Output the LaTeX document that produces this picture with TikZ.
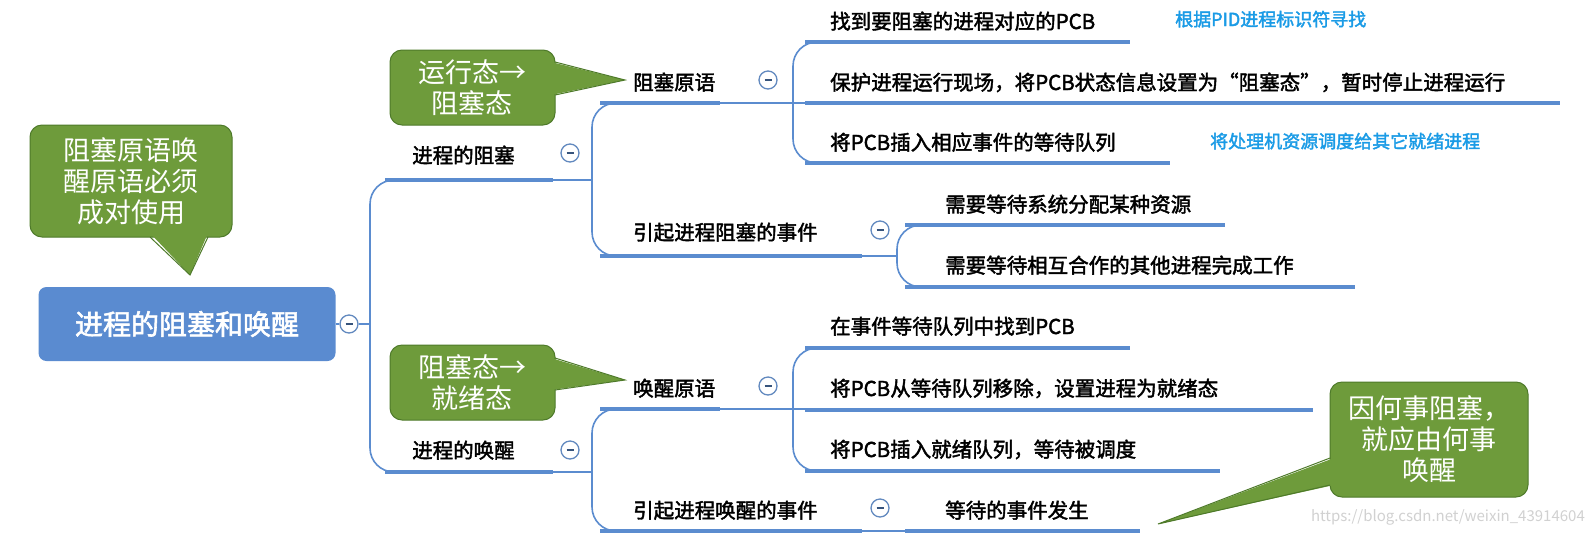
\documentclass[tikz,border=0pt]{standalone}
\usepackage{fontspec}
\setmainfont[AutoFakeBold=2]{Noto Sans CJK SC}
\definecolor{lineblue}{HTML}{5B8CCF}
\definecolor{rootblue}{HTML}{5A8BD0}
\definecolor{cgreen}{HTML}{6E9B3B}
\definecolor{cgreenb}{HTML}{4E7A2A}
\definecolor{noteblue}{HTML}{1A9BE6}
\begin{document}
\begin{tikzpicture}[x=1pt,y=-1pt,
  lbl/.style={anchor=base west,inner sep=0pt,font=\bfseries\fontsize{20.5}{22}\selectfont},
  note/.style={anchor=base west,inner sep=0pt,text=noteblue,font=\bfseries\fontsize{18}{20}\selectfont},
  uline/.style={lineblue,line width=4.5pt},
  conn/.style={lineblue,line width=1.6pt,rounded corners=24pt},
  tog/.style={circle,draw=lineblue!80!gray,line width=1.3pt,minimum size=18pt,inner sep=0pt,fill=white,
     path picture={\draw[lineblue!60!black,line width=1.3pt] ([xshift=-3.5pt]path picture bounding box.center) -- ([xshift=3.5pt]path picture bounding box.center);}},
  call/.style={fill=cgreen,draw=cgreenb,line width=1pt,rounded corners=12pt},
  calltxt/.style={align=center,text=white,font=\fontsize{27}{31}\selectfont,inner sep=0pt}]
\useasboundingbox (0,0) rectangle (1595,542);
\fill[white] (0,0) rectangle (1595,542);

% root
\node[fill=rootblue,rounded corners=8pt,minimum width=297pt,minimum height=74pt,text=white,font=\bfseries\fontsize{28}{30}\selectfont] (root) at (187,324) {进程的阻塞和唤醒};
\node[tog] (t0) at (349,324) {};

% level 1
\node[lbl] (b1) at (412,163) {进程的阻塞};
\node[lbl] (b2) at (412,458) {进程的唤醒};
\node[tog] (t1) at (570,153) {};
\node[tog] (t2) at (570,450) {};
\draw[uline] (385,180) -- (553,180);
\draw[uline] (385,472) -- (553,472);
\draw[lineblue,line width=1.6pt] (root.east) -- (t0.west) (t0.east) -- (370,324);
\draw[conn] (370,324) -- (370,180) -- (385,180);
\draw[conn] (370,324) -- (370,472) -- (385,472);

% level 2
\node[lbl] (c1) at (633,90) {阻塞原语};
\node[lbl] (c2) at (633,240) {引起进程阻塞的事件};
\node[lbl] (c3) at (633,396) {唤醒原语};
\node[lbl] (c4) at (633,518) {引起进程唤醒的事件};
\node[tog] (t3) at (768,80) {};
\node[tog] (t4) at (880,230) {};
\node[tog] (t5) at (768,386) {};
\node[tog] (t6) at (880,508) {};
\draw[uline] (600,103) -- (720,103);
\draw[uline] (600,256) -- (862,256);
\draw[uline] (600,409) -- (720,409);
\draw[uline] (600,531) -- (862,531);
\draw[lineblue,line width=1.6pt] (553,180) -- (592,180);
\draw[lineblue,line width=1.6pt] (553,472) -- (592,472);
\draw[conn] (592,180) -- (592,103) -- (600,103);
\draw[conn] (592,180) -- (592,256) -- (600,256);
\draw[conn] (592,472) -- (592,409) -- (600,409);
\draw[conn] (592,472) -- (592,531) -- (600,531);

% level 3
\node[lbl] (d1) at (830,29) {找到要阻塞的进程对应的PCB};
\node[lbl] (d2) at (830,90) {保护进程运行现场，将PCB状态信息设置为“阻塞态”，暂时停止进程运行};
\node[lbl] (d3) at (830,150) {将PCB插入相应事件的等待队列};
\node[lbl] (e1) at (945,212) {需要等待系统分配某种资源};
\node[lbl] (e2) at (945,273) {需要等待相互合作的其他进程完成工作};
\node[lbl] (f1) at (830,334) {在事件等待队列中找到PCB};
\node[lbl] (f2) at (830,396) {将PCB从等待队列移除，设置进程为就绪态};
\node[lbl] (f3) at (830,457) {将PCB插入就绪队列，等待被调度};
\node[lbl] (g1) at (945,518) {等待的事件发生};
\draw[uline] (805,42) -- (1130,42);
\draw[uline] (805,103) -- (1560,103);
\draw[uline] (805,163) -- (1170,163);
\draw[uline] (905,225) -- (1225,225);
\draw[uline] (905,287) -- (1355,287);
\draw[uline] (805,348) -- (1130,348);
\draw[uline] (805,410) -- (1313,410);
\draw[uline] (805,471) -- (1220,471);
\draw[uline] (905,531) -- (1140,531);
\draw[lineblue,line width=1.6pt] (720,103) -- (805,103);
\draw[conn] (793,103) -- (793,42) -- (805,42);
\draw[conn] (793,103) -- (793,163) -- (805,163);
\draw[lineblue,line width=1.6pt] (862,256) -- (897,256);
\draw[conn] (897,256) -- (897,225) -- (905,225);
\draw[conn] (897,256) -- (897,287) -- (905,287);
\draw[lineblue,line width=1.6pt] (720,409) -- (805,409);
\draw[conn] (793,409) -- (793,348) -- (805,348);
\draw[conn] (793,409) -- (793,471) -- (805,471);
\draw[lineblue,line width=1.6pt] (862,531) -- (905,531);

% notes
\node[note] (n1) at (1175,26) {根据PID进程标识符寻找};
\node[note] (n2) at (1210,148) {将处理机资源调度给其它就绪进程};

% callouts
\coordinate (p1) at (190,275);
\coordinate (p2) at (625,80);
\coordinate (p3) at (625,380);
\coordinate (p4) at (1158,524);
\draw[call] (30,125) rectangle (232,237);
\fill[cgreen] (150,233) -- (p1) -- (208,233) -- cycle;
\draw[cgreenb,line width=1pt] (150,237) -- (p1) -- (208,237);
\node[calltxt] (k1) at (131,181) {阻塞原语唤\\醒原语必须\\成对使用};

\draw[call] (390,50) rectangle (555,125);
\fill[cgreen] (551,62) -- (p2) -- (551,95) -- cycle;
\draw[cgreenb,line width=1pt] (555,62) -- (p2) -- (555,95);
\node[calltxt] (k2) at (472,88) {运行态→\\阻塞态};

\draw[call] (390,345) rectangle (555,420);
\fill[cgreen] (551,358) -- (p3) -- (551,390) -- cycle;
\draw[cgreenb,line width=1pt] (555,358) -- (p3) -- (555,390);
\node[calltxt] (k3) at (472,383) {阻塞态→\\就绪态};

\draw[call] (1330,382) rectangle (1528,497);
\fill[cgreen] (1334,458) -- (p4) -- (1334,485) -- cycle;
\draw[cgreenb,line width=1pt] (1330,458) -- (p4) -- (1330,485);
\node[calltxt] (k4) at (1429,439) {因何事阻塞，\\就应由何事\\唤醒};

\node[anchor=base east,inner sep=0pt,text=black!18,font=\fontsize{15}{15}\selectfont] (wm) at (1585,521) {https://blog.csdn.net/weixin\_43914604};
\end{tikzpicture}
\end{document}
